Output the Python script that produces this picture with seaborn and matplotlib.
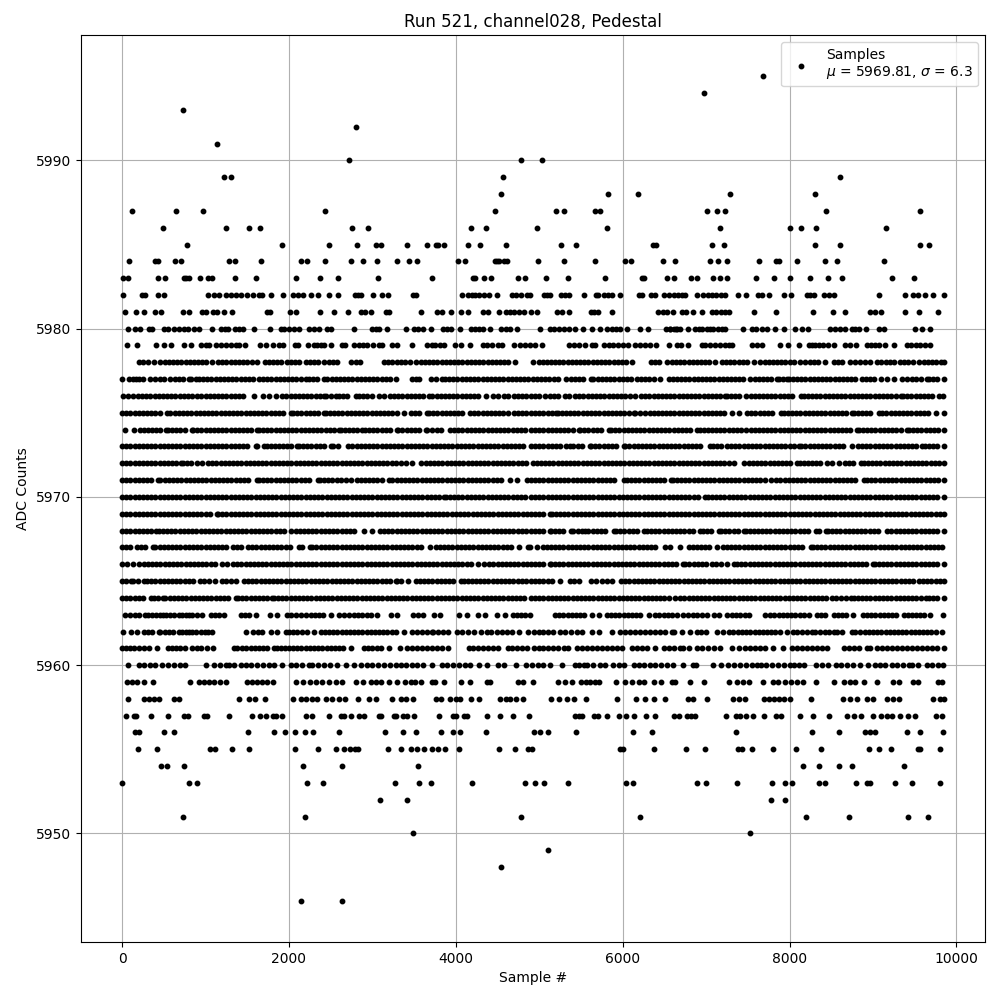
import matplotlib
matplotlib.use("Agg")
import matplotlib.pyplot as plt
import seaborn as sns
import pandas as pd

# sample numbers, one list per ADC level
adc_5995 = [7676]
adc_5994 = [6980]
adc_5993 = [728]
adc_5992 = [2804]
adc_5991 = [1136]
adc_5990 = [2720, 4776, 5028]
adc_5989 = [1220, 1304, 4560, 8600]
adc_5988 = [4536, 5820, 6180, 7292, 8300]
adc_5987 = [116, 644, 968, 2432, 4464, 5196, 5292, 5664, 5724, 7016, 7136, 7232, 8432, 9560]
adc_5986 = [488, 1244, 1520, 1652, 2756, 2948, 4176, 4360, 4968, 5808, 7172, 8000, 8132, 8312, 9152]
adc_5985 = [776, 1916, 2480, 2816, 3044, 3104, 3420, 3660, 3760, 3792, 3864, 4140, 4284, 4596, 5256, 5436, 6360, 6396,
            7076, 7216, 8300, 8600, 9560, 9668]
adc_5984 = [80, 392, 428, 632, 704, 1280, 1352, 1664, 2144, 2216, 2432, 2744, 2888, 3056, 3300, 3444, 3540, 4032, 4104,
            4464, 4490, 4512, 4572, 4608, 4980, 5292, 5664, 6024, 6096, 6480, 6632, 7048, 7148, 7256, 7628, 7840, 7868,
            8084, 8420, 8564, 9128]
adc_5983 = [8, 68, 428, 512, 740, 770, 800, 932, 1028, 1076, 1352, 1604, 2084, 2372, 2588, 3068, 3720, 4200, 4224, 4332,
            4416, 4740, 4824, 5076, 5340, 5784, 6228, 6252, 6528, 6620, 6824, 6896, 7088, 7168, 7256, 7592, 7808, 8000,
            8248, 8456, 8624, 9224, 9488]
adc_5982 = [8, 236, 276, 428, 500, 1028, 1100, 1160, 1240, 1300, 1360, 1420, 1500, 1572, 1640, 1680, 1784, 1928, 2048,
            2108, 2168, 2264, 2344, 2480, 2588, 2792, 2828, 2864, 3008, 3116, 3188, 3492, 3524, 4080, 4140, 4192, 4232,
            4272, 4332, 4392, 4488, 4668, 4716, 4776, 4852, 4884, 5052, 5092, 5132, 5256, 5304, 5352, 5532, 5676, 5700,
            5772, 5822, 5872, 5964, 6192, 6232, 6336, 6384, 6492, 6552, 6612, 6660, 6710, 6748, 6896, 6968, 7020, 7070,
            7120, 7175, 7228, 7388, 7472, 7616, 7668, 7748, 7928, 8012, 8208, 8240, 8288, 8408, 8468, 8528, 9068, 9380,
            9476, 9536, 9628, 9716, 9850]
adc_5981 = [32, 164, 260, 392, 464, 728, 800, 956, 1004, 1088, 1132, 1220, 1316, 1732, 1772, 2012, 2084, 2368, 2540, 2708,
            2864, 2912, 2984, 3164, 3200, 3588, 3780, 3840, 3948, 4068, 4140, 4320, 4380, 4512, 4596, 4650, 4700, 4752,
            4812, 4896, 4968, 5208, 5268, 5352, 5616, 5660, 5700, 5868, 6420, 6480, 6528, 6600, 6708, 6760, 6848, 6956,
            7068, 7120, 7175, 7228, 7280, 7568, 7840, 8276, 8516, 8660, 8960, 9020, 9092, 9380, 9548, 9776]
adc_5980 = [68, 152, 212, 320, 360, 500, 548, 620, 680, 740, 788, 860, 920, 1076, 1184, 1232, 1268, 1352, 1400, 1448, 1580,
            1768, 1904, 1940, 2000, 2060, 2120, 2240, 2300, 2360, 2456, 2504, 2780, 2996, 3040, 3080, 3176, 3408, 3500,
            3552, 3612, 3700, 3844, 3890, 3940, 4048, 4176, 4230, 4280, 4330, 4412, 4544, 4600, 4650, 4732, 5004, 5124,
            5180, 5240, 5300, 5352, 5424, 5520, 5628, 5724, 5812, 5870, 5920, 5972, 6052, 6204, 6300, 6516, 6570, 6636,
            6568, 6610, 6648, 6692, 6788, 6868, 6910, 6948, 7008, 7050, 7088, 7148, 7190, 7228, 7436, 7548, 7600, 7668,
            7728, 7820, 7928, 8068, 8148, 8216, 8488, 8540, 8600, 8668, 8748, 8790, 8828, 8912, 9068, 9128, 9500, 9588,
            9688]
adc_5979 = [56, 176, 404, 500, 584, 740, 824, 944, 1004, 1040, 1124, 1180, 1240, 1300, 1360, 1400, 1476, 1652, 1724, 1808,
            1880, 1932, 2072, 2108, 2228, 2300, 2340, 2380, 2420, 2500, 2632, 2668, 2780, 2840, 2888, 2940, 3008, 3080,
            3120, 3236, 3300, 3472, 3660, 3710, 3752, 3812, 3864, 3996, 4068, 4164, 4320, 4370, 4432, 4500, 4552, 4700,
            4764, 4832, 4892, 4952, 5032, 5352, 5412, 5472, 5544, 5632, 5672, 5772, 5832, 5880, 5940, 6000, 6060, 6152,
            6210, 6270, 6330, 6404, 6552, 6648, 6700, 6788, 6948, 6988, 7048, 7108, 7168, 7228, 7270, 7308, 7548, 7610,
            7668, 7888, 7976, 8108, 8228, 8270, 8308, 8348, 8400, 8460, 8528, 8668, 8728, 8792, 8928, 8980, 9030, 9068,
            9148, 9256, 9408, 9460, 9510, 9560, 9620, 9688]
adc_5978 = [200, 250, 308, 380, 460, 510, 560, 610, 660, 710, 760, 810, 860, 910, 960, 1010, 1080, 1148, 1200, 1250, 1300,
            1350, 1400, 1450, 1500, 1560, 1620, 1712, 1760, 1810, 1860, 1910, 1980, 2020, 2070, 2120, 2200, 2250, 2300,
            2350, 2420, 2480, 2530, 2572, 2740, 2800, 2852, 3140, 3190, 3240, 3300, 3340, 3392, 3452, 3524, 3580, 3632,
            3680, 3730, 3780, 3830, 3880, 3930, 3980, 4030, 4080, 4130, 4180, 4230, 4280, 4330, 4380, 4430, 4480, 4530,
            4580, 4630, 4712, 4920, 4992, 5040, 5090, 5140, 5190, 5240, 5290, 5340, 5390, 5440, 5490, 5540, 5590, 5640,
            5690, 5740, 5790, 5840, 5890, 5940, 5990, 6040, 6112, 6340, 6390, 6440, 6532, 6588, 6640, 6690, 6740, 6790,
            6840, 6890, 6940, 6990, 7040, 7108, 7188, 7240, 7290, 7340, 7390, 7440, 7488, 7568, 7648, 7700, 7750, 7800,
            7850, 7900, 7950, 8000, 8050, 8128, 8188, 8240, 8290, 8340, 8428, 8528, 8580, 8630, 8728, 8788, 8850, 8908,
            8968, 9048, 9100, 9150, 9200, 9250, 9328, 9368, 9420, 9480, 9548, 9608, 9660, 9710, 9760, 9810, 9850]
adc_5977 = [0, 80, 130, 172, 200, 250, 332, 400, 450, 500, 580, 632, 680, 730, 800, 820, 880, 920, 970, 1020, 1070, 1120,
            1170, 1220, 1268, 1320, 1370, 1420, 1470, 1520, 1570, 1640, 1692, 1740, 1788, 1840, 1890, 1940, 1990, 2040,
            2090, 2140, 2200, 2240, 2290, 2340, 2420, 2460, 2510, 2560, 2610, 2660, 2710, 2760, 2810, 2860, 2910, 2960,
            3010, 3060, 3110, 3160, 3210, 3280, 3480, 3520, 3560, 3708, 3760, 3840, 3872, 3920, 3970, 4020, 4070, 4120,
            4170, 4220, 4270, 4320, 4370, 4420, 4470, 4520, 4570, 4620, 4670, 4720, 4770, 4820, 4870, 4920, 4970, 5020,
            5070, 5120, 5172, 5230, 5320, 5380, 5430, 5480, 5530, 5620, 5650, 5700, 5750, 5800, 5850, 5900, 5950, 6000,
            6050, 6100, 6170, 6220, 6270, 6320, 6370, 6450, 6552, 6600, 6650, 6700, 6750, 6800, 6850, 6900, 6950, 7000,
            7050, 7100, 7150, 7200, 7250, 7300, 7350, 7400, 7444, 7524, 7580, 7630, 7680, 7730, 7780, 7844, 7872, 7920,
            7964, 7992, 8040, 8090, 8140, 8190, 8240, 8290, 8340, 8390, 8440, 8490, 8540, 8590, 8640, 8690, 8740, 8790,
            8872, 8912, 8960, 9010, 9100, 9164, 9252, 9350, 9412, 9472, 9520, 9570, 9652, 9672, 9720, 9770, 9850]
adc_5976 = [12, 70, 132, 188, 240, 290, 340, 390, 440, 490, 540, 590, 640, 690, 740, 790, 840, 892, 940, 1000, 1050, 1100,
            1150, 1200, 1250, 1300, 1350, 1400, 1452, 1580, 1684, 1760, 1848, 1920, 1970, 2020, 2070, 2120, 2170, 2220,
            2270, 2320, 2370, 2420, 2440, 2500, 2560, 2600, 2650, 2700, 2800, 2840, 2890, 2940, 2990, 3080, 3140, 3212,
            3260, 3310, 3360, 3410, 3460, 3510, 3560, 3610, 3680, 3720, 3770, 3820, 3870, 3920, 3970, 4020, 4070, 4120,
            4170, 4220, 4270, 4360, 4440, 4510, 4572, 4620, 4692, 4740, 4790, 4840, 4900, 4950, 5000, 5072, 5132, 5180,
            5230, 5312, 5360, 5432, 5480, 5530, 5580, 5630, 5680, 5730, 5780, 5830, 5880, 5930, 5980, 6030, 6092, 6152,
            6224, 6270, 6320, 6370, 6420, 6470, 6520, 6570, 6620, 6670, 6720, 6770, 6820, 6870, 6920, 6970, 7020, 7070,
            7120, 7170, 7232, 7252, 7300, 7350, 7400, 7472, 7532, 7580, 7630, 7680, 7730, 7780, 7830, 7880, 7930, 7980,
            8030, 8132, 8172, 8220, 8270, 8320, 8370, 8420, 8470, 8520, 8570, 8620, 8670, 8720, 8770, 8820, 8870, 8920,
            8970, 9020, 9070, 9120, 9170, 9220, 9270, 9332, 9364, 9410, 9460, 9510, 9560, 9610, 9660, 9710, 9792, 9840]
adc_5975 = [0, 50, 100, 150, 200, 250, 300, 350, 400, 450, 540, 580, 630, 680, 730, 780, 830, 880, 930, 980, 1030, 1080,
            1130, 1180, 1230, 1280, 1330, 1380, 1430, 1480, 1530, 1580, 1630, 1680, 1730, 1780, 1830, 1880, 1930, 2020,
            2052, 2100, 2150, 2200, 2250, 2300, 2350, 2420, 2440, 2490, 2540, 2590, 2640, 2690, 2740, 2790, 2840, 2890,
            2940, 2990, 3040, 3090, 3140, 3190, 3240, 3290, 3380, 3460, 3510, 3560, 3660, 3680, 3730, 3780, 3830, 3880,
            3930, 3980, 4030, 4080, 4172, 4220, 4270, 4320, 4370, 4420, 4470, 4520, 4570, 4620, 4700, 4740, 4790, 4840,
            4900, 4950, 5000, 5050, 5100, 5150, 5204, 5220, 5270, 5320, 5370, 5420, 5470, 5520, 5570, 5620, 5670, 5720,
            5770, 5820, 5870, 5920, 5970, 6020, 6070, 6132, 6152, 6210, 6272, 6324, 6370, 6420, 6470, 6520, 6570, 6620,
            6670, 6720, 6770, 6820, 6870, 6920, 6970, 7020, 7070, 7120, 7170, 7220, 7312, 7392, 7492, 7540, 7590, 7640,
            7690, 7740, 7790, 7900, 7932, 7980, 8030, 8080, 8130, 8180, 8230, 8280, 8330, 8380, 8430, 8480, 8530, 8580,
            8630, 8680, 8752, 8772, 8820, 8870, 8920, 8970, 9072, 9112, 9160, 9210, 9260, 9310, 9360, 9410, 9460, 9510,
            9560, 9610, 9660, 9752, 9850]
adc_5974 = [40, 140, 212, 260, 310, 360, 410, 460, 532, 548, 600, 650, 700, 750, 832, 848, 900, 950, 1000, 1050, 1100, 1150,
            1200, 1250, 1300, 1350, 1400, 1450, 1500, 1550, 1612, 1640, 1690, 1740, 1790, 1840, 1890, 1940, 1990, 2040,
            2090, 2140, 2190, 2240, 2290, 2340, 2390, 2440, 2490, 2540, 2600, 2620, 2670, 2720, 2770, 2820, 2880, 2908,
            2960, 3010, 3060, 3110, 3160, 3210, 3292, 3308, 3360, 3410, 3460, 3510, 3560, 3640, 3660, 3710, 3770, 3828,
            3932, 3980, 4030, 4080, 4130, 4180, 4230, 4280, 4330, 4380, 4430, 4480, 4530, 4580, 4630, 4680, 4730, 4780,
            4830, 4900, 4950, 5000, 5050, 5100, 5150, 5200, 5250, 5300, 5350, 5400, 5472, 5492, 5540, 5590, 5640, 5690,
            5740, 5832, 5860, 5910, 5960, 6010, 6060, 6110, 6160, 6210, 6260, 6310, 6360, 6410, 6460, 6510, 6560, 6610,
            6660, 6710, 6760, 6810, 6892, 6924, 6970, 7020, 7070, 7120, 7170, 7220, 7270, 7320, 7370, 7420, 7480, 7532,
            7580, 7630, 7680, 7730, 7780, 7830, 7880, 7930, 7980, 8030, 8080, 8130, 8180, 8230, 8280, 8330, 8380, 8430,
            8480, 8530, 8580, 8630, 8680, 8730, 8812, 8832, 8880, 8930, 8980, 9030, 9080, 9130, 9180, 9230, 9280, 9330,
            9404, 9432, 9480, 9530, 9580, 9630, 9680, 9730, 9780, 9850]
adc_5973 = [0, 50, 100, 150, 200, 250, 300, 350, 400, 450, 500, 550, 600, 650, 700, 750, 800, 850, 900, 950, 1000, 1050,
            1100, 1150, 1200, 1250, 1300, 1350, 1400, 1450, 1500, 1600, 1620, 1700, 1732, 1780, 1830, 1880, 1930, 1980,
            2030, 2092, 2120, 2170, 2220, 2270, 2320, 2370, 2420, 2500, 2532, 2590, 2708, 2760, 2810, 2860, 2910, 2960,
            3010, 3060, 3110, 3160, 3210, 3260, 3310, 3360, 3410, 3460, 3510, 3560, 3610, 3660, 3710, 3760, 3810, 3860,
            3910, 3960, 4010, 4060, 4110, 4160, 4210, 4260, 4310, 4360, 4410, 4460, 4510, 4560, 4610, 4660, 4710, 4760,
            4810, 4900, 4950, 5000, 5050, 5100, 5150, 5200, 5250, 5324, 5364, 5410, 5460, 5510, 5604, 5620, 5670, 5720,
            5770, 5820, 5870, 5920, 6012, 6032, 6080, 6130, 6180, 6230, 6280, 6330, 6380, 6430, 6480, 6530, 6580, 6630,
            6680, 6730, 6780, 6830, 6880, 6930, 7052, 7080, 7130, 7180, 7252, 7300, 7350, 7400, 7450, 7500, 7550, 7600,
            7650, 7700, 7750, 7800, 7850, 7900, 7950, 8000, 8050, 8112, 8140, 8190, 8240, 8290, 8340, 8390, 8440, 8490,
            8540, 8590, 8640, 8752, 8820, 8870, 8920, 8970, 9020, 9070, 9120, 9170, 9220, 9270, 9320, 9370, 9420, 9470,
            9520, 9592, 9624, 9670, 9720, 9770, 9850]
adc_5972 = [0, 50, 100, 150, 200, 250, 300, 350, 400, 450, 500, 550, 600, 650, 708, 732, 780, 830, 900, 960, 1028, 1080,
            1130, 1180, 1230, 1280, 1330, 1380, 1430, 1480, 1530, 1580, 1630, 1680, 1730, 1780, 1830, 1880, 1930, 1980,
            2030, 2080, 2130, 2180, 2230, 2280, 2330, 2380, 2430, 2480, 2530, 2580, 2630, 2680, 2730, 2780, 2830, 2880,
            2930, 2980, 3030, 3080, 3130, 3180, 3230, 3280, 3340, 3400, 3480, 3588, 3640, 3690, 3740, 3790, 3840, 3890,
            3940, 3990, 4040, 4090, 4140, 4190, 4240, 4290, 4340, 4390, 4440, 4490, 4540, 4590, 4640, 4690, 4740, 4790,
            4840, 4924, 4970, 5020, 5070, 5120, 5170, 5220, 5270, 5320, 5370, 5420, 5470, 5520, 5570, 5620, 5670, 5720,
            5770, 5820, 5870, 5920, 5970, 6020, 6070, 6120, 6170, 6220, 6270, 6320, 6370, 6420, 6470, 6520, 6570, 6620,
            6670, 6720, 6770, 6820, 6870, 6920, 6970, 7020, 7070, 7120, 7170, 7220, 7270, 7336, 7452, 7512, 7560, 7610,
            7660, 7710, 7760, 7810, 7860, 7910, 7960, 8010, 8092, 8124, 8170, 8220, 8270, 8320, 8370, 8444, 8512, 8592,
            8664, 8712, 8760, 8852, 8892, 8940, 8990, 9040, 9090, 9140, 9190, 9240, 9290, 9340, 9390, 9440, 9490, 9540,
            9590, 9640, 9690, 9740, 9790, 9850]
adc_5971 = [0, 50, 100, 150, 200, 250, 300, 350, 432, 460, 510, 560, 610, 660, 710, 760, 810, 860, 910, 960, 1010, 1060,
            1110, 1160, 1210, 1260, 1310, 1360, 1410, 1460, 1510, 1620, 1640, 1690, 1740, 1790, 1840, 1890, 1940, 1990,
            2040, 2090, 2140, 2190, 2240, 2348, 2372, 2420, 2470, 2520, 2570, 2620, 2680, 2748, 2812, 2860, 2910, 2960,
            3010, 3060, 3110, 3200, 3240, 3290, 3340, 3390, 3440, 3490, 3540, 3590, 3640, 3690, 3740, 3790, 3840, 3890,
            3940, 3990, 4040, 4090, 4140, 4190, 4240, 4290, 4340, 4390, 4440, 4490, 4540, 4652, 4732, 4852, 4900, 4950,
            5000, 5050, 5100, 5150, 5200, 5250, 5300, 5350, 5400, 5450, 5500, 5550, 5600, 5650, 5700, 5750, 5800, 5850,
            5900, 6012, 6052, 6100, 6150, 6200, 6250, 6300, 6350, 6400, 6450, 6500, 6580, 6604, 6650, 6700, 6750, 6800,
            6850, 6900, 6950, 7000, 7050, 7100, 7150, 7200, 7250, 7300, 7350, 7400, 7450, 7500, 7550, 7600, 7650, 7700,
            7780, 7840, 7890, 7940, 7990, 8040, 8090, 8140, 8190, 8240, 8290, 8340, 8390, 8440, 8490, 8540, 8590, 8640,
            8690, 8740, 8790, 8892, 8932, 8980, 9030, 9080, 9130, 9180, 9230, 9280, 9330, 9380, 9430, 9480, 9530, 9580,
            9630, 9680, 9730, 9780, 9850]
adc_5970 = [0, 50, 100, 150, 200, 250, 300, 350, 400, 450, 500, 550, 600, 650, 700, 750, 800, 850, 900, 950, 1000, 1050,
            1100, 1150, 1200, 1250, 1300, 1350, 1400, 1450, 1500, 1550, 1600, 1650, 1700, 1750, 1800, 1850, 1900, 1950,
            2000, 2050, 2100, 2150, 2200, 2250, 2300, 2350, 2400, 2450, 2500, 2550, 2600, 2650, 2700, 2750, 2800, 2850,
            2900, 2950, 3000, 3050, 3100, 3150, 3200, 3250, 3300, 3350, 3400, 3450, 3500, 3550, 3600, 3650, 3700, 3750,
            3800, 3860, 3880, 3930, 3980, 4030, 4080, 4130, 4180, 4230, 4280, 4330, 4380, 4430, 4480, 4530, 4580, 4630,
            4680, 4730, 4780, 4830, 4900, 4950, 5000, 5050, 5100, 5150, 5200, 5250, 5300, 5350, 5400, 5450, 5500, 5550,
            5600, 5650, 5700, 5750, 5800, 5850, 5900, 5950, 6000, 6050, 6100, 6150, 6200, 6250, 6300, 6350, 6400, 6450,
            6500, 6550, 6600, 6650, 6700, 6750, 6800, 6850, 6900, 6992, 7020, 7070, 7120, 7170, 7220, 7270, 7320, 7370,
            7420, 7470, 7520, 7570, 7620, 7670, 7720, 7770, 7820, 7870, 7920, 7970, 8020, 8070, 8120, 8170, 8220, 8270,
            8320, 8370, 8420, 8470, 8520, 8570, 8620, 8670, 8720, 8770, 8820, 8870, 8920, 8970, 9020, 9070, 9120, 9170,
            9220, 9270, 9320, 9370, 9420, 9470, 9520, 9570, 9620, 9670, 9720, 9770, 9850]
adc_5969 = [0, 50, 100, 150, 200, 250, 300, 350, 400, 450, 500, 550, 600, 650, 700, 750, 800, 850, 900, 950, 1000, 1050,
            1132, 1148, 1200, 1250, 1300, 1350, 1400, 1450, 1500, 1550, 1600, 1650, 1700, 1750, 1800, 1850, 1900, 1950,
            2000, 2050, 2100, 2150, 2200, 2250, 2300, 2350, 2400, 2450, 2500, 2550, 2600, 2650, 2700, 2750, 2800, 2850,
            2900, 2950, 3000, 3050, 3100, 3150, 3200, 3250, 3300, 3350, 3400, 3450, 3500, 3550, 3600, 3650, 3700, 3750,
            3800, 3850, 3900, 3950, 4000, 4050, 4100, 4150, 4200, 4250, 4300, 4350, 4400, 4450, 4500, 4550, 4600, 4650,
            4700, 4750, 4800, 4850, 4900, 4950, 5000, 5050, 5132, 5152, 5200, 5250, 5300, 5350, 5400, 5450, 5500, 5550,
            5600, 5650, 5700, 5750, 5800, 5850, 5900, 5950, 6000, 6050, 6100, 6150, 6200, 6250, 6300, 6350, 6400, 6450,
            6500, 6550, 6600, 6650, 6700, 6750, 6800, 6850, 6900, 6950, 7000, 7050, 7100, 7150, 7200, 7250, 7300, 7350,
            7400, 7450, 7500, 7550, 7600, 7650, 7700, 7750, 7800, 7850, 7900, 7950, 8000, 8050, 8100, 8150, 8200, 8250,
            8300, 8350, 8400, 8450, 8500, 8550, 8600, 8650, 8700, 8750, 8800, 8850, 8900, 8950, 9000, 9050, 9100, 9150,
            9200, 9250, 9300, 9350, 9400, 9450, 9500, 9550, 9600, 9650, 9700, 9750, 9800, 9850]
adc_5968 = [0, 50, 100, 150, 200, 250, 300, 350, 412, 440, 490, 540, 590, 640, 690, 740, 790, 840, 890, 940, 990, 1040,
            1090, 1140, 1190, 1240, 1290, 1340, 1390, 1440, 1490, 1540, 1590, 1640, 1690, 1740, 1790, 1840, 1890, 1940,
            2020, 2080, 2130, 2180, 2230, 2280, 2330, 2380, 2430, 2480, 2530, 2580, 2630, 2680, 2730, 2780, 2900, 3000,
            3092, 3140, 3190, 3240, 3290, 3340, 3390, 3440, 3490, 3540, 3590, 3640, 3690, 3740, 3790, 3840, 3890, 3940,
            3990, 4040, 4090, 4140, 4190, 4240, 4290, 4340, 4390, 4440, 4490, 4540, 4590, 4640, 4690, 4740, 4790, 4840,
            4900, 4950, 5000, 5050, 5124, 5144, 5190, 5240, 5290, 5384, 5408, 5460, 5516, 5544, 5590, 5640, 5690, 5740,
            5790, 5892, 5924, 5970, 6020, 6070, 6120, 6170, 6260, 6292, 6340, 6390, 6440, 6490, 6540, 6590, 6640, 6690,
            6740, 6790, 6840, 6932, 6964, 7010, 7060, 7152, 7180, 7230, 7280, 7330, 7380, 7452, 7472, 7520, 7570, 7620,
            7670, 7720, 7770, 7820, 7870, 7920, 7970, 8020, 8070, 8120, 8170, 8220, 8312, 8352, 8432, 8460, 8510, 8560,
            8610, 8660, 8710, 8760, 8810, 8860, 8910, 8960, 9010, 9060, 9172, 9220, 9270, 9320, 9370, 9420, 9470, 9520,
            9570, 9620, 9670, 9720, 9770, 9850]
adc_5967 = [0, 50, 100, 180, 228, 280, 372, 400, 450, 500, 550, 600, 650, 700, 750, 800, 850, 900, 950, 1000, 1050, 1100,
            1150, 1200, 1250, 1332, 1372, 1420, 1508, 1560, 1610, 1660, 1710, 1760, 1810, 1860, 1910, 1960, 2010, 2120,
            2160, 2252, 2280, 2330, 2380, 2430, 2480, 2530, 2580, 2630, 2680, 2730, 2780, 2830, 2880, 2930, 2980, 3030,
            3080, 3130, 3180, 3230, 3280, 3330, 3380, 3430, 3480, 3530, 3580, 3692, 3760, 3810, 3860, 3910, 3960, 4010,
            4060, 4110, 4160, 4210, 4260, 4310, 4360, 4410, 4460, 4510, 4560, 4610, 4660, 4760, 4860, 4892, 4972, 5044,
            5090, 5140, 5190, 5240, 5290, 5340, 5390, 5440, 5490, 5540, 5590, 5640, 5690, 5740, 5790, 5840, 5890, 5940,
            5990, 6040, 6090, 6140, 6190, 6240, 6290, 6340, 6390, 6512, 6564, 6692, 6792, 6840, 6890, 6940, 6990, 7040,
            7132, 7204, 7250, 7300, 7350, 7400, 7450, 7500, 7550, 7600, 7650, 7700, 7750, 7800, 7850, 7900, 7950, 8000,
            8050, 8100, 8150, 8252, 8284, 8330, 8380, 8430, 8480, 8530, 8580, 8630, 8680, 8730, 8780, 8830, 8880, 8930,
            8980, 9030, 9080, 9130, 9180, 9230, 9280, 9330, 9380, 9430, 9480, 9530, 9580, 9630, 9680, 9730, 9780, 9830]
adc_5966 = [0, 60, 132, 208, 260, 310, 360, 410, 460, 510, 560, 610, 660, 710, 760, 810, 860, 910, 960, 1010, 1060, 1110,
            1192, 1252, 1332, 1380, 1430, 1480, 1530, 1580, 1630, 1680, 1730, 1780, 1830, 1880, 1930, 1980, 2030, 2080,
            2130, 2180, 2230, 2280, 2330, 2380, 2430, 2480, 2530, 2580, 2630, 2680, 2730, 2780, 2830, 2880, 2930, 2980,
            3030, 3080, 3130, 3180, 3230, 3280, 3330, 3380, 3430, 3480, 3530, 3580, 3630, 3680, 3730, 3780, 3830, 3880,
            3930, 3980, 4030, 4080, 4130, 4180, 4260, 4340, 4400, 4450, 4500, 4550, 4600, 4650, 4700, 4750, 4800, 4850,
            4900, 4950, 5000, 5050, 5124, 5140, 5190, 5240, 5290, 5340, 5390, 5440, 5490, 5540, 5590, 5640, 5690, 5740,
            5790, 5840, 5890, 5940, 5990, 6040, 6090, 6140, 6190, 6240, 6290, 6340, 6390, 6440, 6490, 6540, 6590, 6640,
            6724, 6752, 6800, 6850, 6900, 6950, 7000, 7072, 7124, 7180, 7250, 7332, 7372, 7420, 7470, 7520, 7570, 7620,
            7670, 7720, 7770, 7820, 7870, 7920, 7970, 8020, 8070, 8120, 8170, 8220, 8270, 8320, 8370, 8420, 8470, 8520,
            8570, 8620, 8670, 8720, 8770, 8820, 8870, 8920, 8996, 9024, 9070, 9120, 9170, 9220, 9270, 9320, 9370, 9420,
            9470, 9520, 9570, 9620, 9670, 9720, 9770, 9850]
adc_5965 = [0, 50, 108, 132, 190, 260, 300, 350, 400, 450, 500, 550, 600, 650, 700, 750, 800, 850, 932, 980, 1040, 1110,
            1200, 1248, 1300, 1370, 1460, 1508, 1560, 1610, 1660, 1710, 1760, 1810, 1860, 1910, 1960, 2010, 2060, 2110,
            2160, 2210, 2260, 2310, 2360, 2410, 2460, 2510, 2560, 2610, 2660, 2710, 2760, 2810, 2860, 2910, 2960, 3010,
            3060, 3110, 3160, 3210, 3280, 3300, 3340, 3430, 3520, 3572, 3620, 3670, 3720, 3770, 3820, 3870, 3920, 3970,
            4060, 4092, 4140, 4190, 4240, 4290, 4340, 4390, 4440, 4490, 4540, 4590, 4640, 4690, 4740, 4790, 4840, 4900,
            4950, 5000, 5050, 5100, 5150, 5244, 5364, 5420, 5480, 5620, 5684, 5752, 5810, 5872, 5980, 6030, 6080, 6130,
            6180, 6230, 6280, 6330, 6380, 6430, 6480, 6530, 6580, 6630, 6680, 6730, 6780, 6830, 6880, 6930, 6980, 7030,
            7080, 7130, 7180, 7230, 7280, 7330, 7380, 7430, 7480, 7530, 7580, 7630, 7680, 7730, 7780, 7830, 7880, 7930,
            7980, 8030, 8080, 8130, 8180, 8230, 8280, 8330, 8380, 8430, 8480, 8530, 8580, 8630, 8680, 8730, 8780, 8830,
            8880, 8930, 8980, 9030, 9080, 9130, 9180, 9230, 9280, 9330, 9380, 9430, 9480, 9552, 9600, 9650, 9700, 9750,
            9800, 9850]
adc_5964 = [0, 50, 100, 150, 200, 250, 348, 380, 430, 492, 520, 570, 620, 670, 720, 770, 820, 870, 920, 970, 1020, 1070,
            1120, 1170, 1220, 1270, 1360, 1388, 1440, 1490, 1540, 1590, 1640, 1690, 1740, 1800, 1820, 1870, 1920, 1970,
            2020, 2070, 2120, 2170, 2220, 2270, 2320, 2370, 2420, 2470, 2520, 2570, 2620, 2670, 2720, 2770, 2820, 2870,
            2920, 2970, 3020, 3070, 3120, 3170, 3220, 3270, 3320, 3370, 3420, 3470, 3520, 3570, 3620, 3670, 3720, 3770,
            3820, 3870, 3920, 3970, 4020, 4070, 4120, 4170, 4220, 4270, 4320, 4370, 4420, 4470, 4520, 4570, 4620, 4670,
            4720, 4770, 4820, 4900, 4950, 5000, 5050, 5100, 5150, 5200, 5250, 5300, 5350, 5400, 5450, 5500, 5550, 5600,
            5650, 5700, 5750, 5800, 5850, 5900, 5950, 6000, 6050, 6100, 6150, 6200, 6250, 6300, 6350, 6400, 6450, 6500,
            6550, 6632, 6692, 6740, 6790, 6840, 6890, 6940, 6990, 7040, 7090, 7140, 7190, 7240, 7290, 7340, 7390, 7440,
            7490, 7540, 7590, 7640, 7690, 7740, 7790, 7840, 7890, 7940, 7990, 8040, 8090, 8140, 8190, 8240, 8290, 8340,
            8390, 8440, 8512, 8560, 8620, 8680, 8740, 8772, 8820, 8870, 8920, 8970, 9020, 9070, 9120, 9170, 9220, 9270,
            9320, 9370, 9420, 9470, 9520, 9570, 9632, 9672, 9720, 9770, 9850]
adc_5963 = [40, 100, 150, 200, 280, 308, 360, 410, 460, 488, 530, 580, 620, 680, 720, 760, 800, 840, 900, 960, 1060, 1110,
            1160, 1220, 1420, 1470, 1520, 1600, 1772, 1852, 1980, 2030, 2080, 2140, 2208, 2260, 2310, 2360, 2410, 2500,
            2600, 2660, 2720, 2780, 2830, 2880, 2930, 2980, 3060, 3228, 3300, 3484, 3552, 3612, 3740, 3812, 4044, 4128,
            4260, 4344, 4488, 4584, 4680, 4730, 4780, 4830, 4892, 5192, 5240, 5290, 5340, 5390, 5440, 5490, 5540, 5632,
            5712, 5812, 5860, 5910, 5960, 6010, 6060, 6110, 6160, 6210, 6312, 6392, 6440, 6490, 6540, 6590, 6656, 6720,
            6788, 6840, 6890, 6948, 7008, 7096, 7150, 7248, 7308, 7360, 7410, 7460, 7508, 7708, 7760, 7808, 7868, 7920,
            7970, 8020, 8070, 8120, 8170, 8228, 8328, 8380, 8428, 8528, 8580, 8630, 8680, 8760, 8880, 8930, 8980, 9030,
            9080, 9130, 9180, 9230, 9280, 9368, 9420, 9470, 9510, 9560, 9610, 9688, 9840]
adc_5962 = [8, 108, 180, 260, 310, 360, 440, 460, 510, 560, 610, 680, 720, 760, 800, 840, 890, 940, 990, 1030, 1080, 1480,
            1568, 1632, 1680, 1780, 1860, 1960, 2000, 2050, 2100, 2160, 2220, 2300, 2380, 2430, 2480, 2530, 2580, 2630,
            2680, 2730, 2780, 2830, 2880, 2930, 2980, 3030, 3080, 3130, 3180, 3230, 3280, 3380, 3472, 3532, 3590, 3650,
            3712, 3732, 3790, 3850, 3910, 4012, 4072, 4140, 4220, 4300, 4372, 4420, 4492, 4550, 4610, 4670, 4752, 4860,
            4932, 4992, 5044, 5100, 5160, 5252, 5312, 5380, 5452, 5512, 5632, 5712, 5872, 5972, 6032, 6090, 6150, 6210,
            6270, 6330, 6390, 6450, 6510, 6612, 6708, 6588, 6808, 6888, 6936, 7000, 7136, 7208, 7280, 7328, 7380, 7430,
            7480, 7530, 7580, 7630, 7680, 7730, 7780, 7830, 7880, 7968, 8036, 8088, 8150, 8210, 8268, 8308, 8360, 8420,
            8470, 8528, 8568, 8628, 8748, 8788, 8840, 8900, 8950, 9000, 9050, 9100, 9150, 9200, 9250, 9300, 9350, 9400,
            9450, 9500, 9550, 9600, 9650, 9700, 9750, 9828]
adc_5961 = [0, 50, 100, 148, 200, 260, 320, 420, 548, 600, 650, 700, 750, 840, 892, 950, 1020, 1092, 1340, 1380, 1440, 1490,
            1540, 1590, 1640, 1690, 1740, 1820, 1852, 1900, 1950, 2000, 2050, 2100, 2150, 2200, 2250, 2300, 2350, 2400,
            2450, 2500, 2550, 2600, 2650, 2740, 2900, 2950, 3000, 3050, 3100, 3200, 3328, 3420, 3480, 3540, 3592, 3650,
            3710, 3770, 3830, 3912, 4152, 4210, 4270, 4330, 4390, 4450, 4510, 4620, 4672, 4730, 4790, 4850, 4932, 4992,
            5050, 5110, 5170, 5230, 5292, 5344, 5452, 5510, 5570, 5630, 5690, 5750, 5810, 5870, 5930, 5992, 6112, 6170,
            6230, 6290, 6392, 6492, 6560, 6620, 6692, 6720, 6800, 6888, 6948, 7028, 7100, 7168, 7308, 7400, 7468, 7530,
            7590, 7650, 7710, 7796, 7916, 8028, 8090, 8150, 8210, 8270, 8330, 8390, 8448, 8648, 8710, 8770, 8830, 8928,
            8960, 9048, 9108, 9170, 9230, 9290, 9350, 9410, 9470, 9530, 9590, 9650, 9710, 9770, 9848]
adc_5960 = [68, 200, 260, 330, 400, 480, 550, 620, 700, 752, 1004, 1100, 1170, 1240, 1280, 1340, 1420, 1480, 1550, 1620, 1690,
            1760, 1820, 1920, 2020, 2090, 2160, 2240, 2280, 2350, 2420, 2490, 2580, 2680, 2780, 2860, 2930, 3000, 3070,
            3140, 3210, 3280, 3340, 3400, 3470, 3540, 3610, 3712, 3840, 3900, 3972, 4040, 4110, 4172, 4280, 4372, 4500,
            4572, 4716, 4844, 4910, 4980, 5050, 5124, 5268, 5424, 5480, 5532, 5572, 5640, 5724, 5784, 5884, 5950, 6020,
            6132, 6192, 6252, 6324, 6390, 6460, 6530, 6604, 6728, 6848, 6880, 7088, 7184, 7268, 7340, 7410, 7480, 7550,
            7608, 7656, 7720, 7790, 7860, 7930, 8008, 8048, 8108, 8168, 8312, 8384, 8456, 8556, 8620, 8690, 8760, 8848,
            8940, 9028, 9088, 9140, 9228, 9288, 9360, 9428, 9468, 9540, 9648, 9708, 9780, 9840]
adc_5959 = [60, 120, 180, 260, 368, 812, 920, 980, 1040, 1100, 1170, 1240, 1500, 1560, 1620, 1680, 1740, 1812, 2080, 2168,
            2252, 2320, 2392, 2480, 2560, 2640, 2808, 2888, 2980, 3040, 3100, 3200, 3300, 3392, 3460, 3512, 3580, 3712,
            3752, 3864, 4064, 4164, 4372, 4412, 4740, 4800, 4920, 5220, 5312, 5392, 5500, 5560, 5612, 5672, 5712, 5916,
            6032, 6110, 6192, 6252, 6372, 6456, 6592, 6632, 6808, 6980, 7276, 7368, 7440, 7508, 7676, 7796, 7856, 7948,
            8020, 8088, 8156, 8312, 8528, 8648, 8728, 8788, 8888, 9044, 9240, 9308, 9480, 9536, 9780, 9828]
adc_5958 = [68, 260, 320, 380, 440, 620, 680, 1400, 1520, 1592, 1708, 2048, 2140, 2210, 2280, 2336, 2440, 2520, 2600, 2672,
            2828, 2960, 3040, 3240, 3340, 3400, 3484, 3764, 3820, 3936, 4000, 4052, 4184, 4272, 4532, 4600, 4652, 4716,
            4800, 5136, 5232, 5328, 5412, 5556, 5936, 6156, 6272, 6372, 6504, 6788, 6848, 7016, 7328, 7400, 7468, 7688,
            7750, 7810, 7870, 7928, 8000, 8252, 8636, 8720, 8808, 8924, 8996, 9168, 9240, 9308, 9716, 9808, 9850]
adc_5957 = [44, 140, 172, 344, 548, 740, 788, 980, 1012, 1280, 1556, 1652, 1720, 1812, 1848, 1920, 2204, 2272, 2484, 2620,
            2660, 2748, 2840, 2900, 3080, 3108, 3260, 3280, 3364, 3420, 3504, 3800, 3972, 4000, 4092, 4132, 4372, 4532,
            4680, 4880, 5432, 5480, 5512, 5652, 5700, 5812, 5952, 6044, 6132, 6280, 6392, 6612, 6680, 6768, 6820, 6868,
            7244, 7356, 7408, 7472, 7556, 7696, 7832, 7900, 8120, 8276, 8476, 8688, 8768, 8852, 8996, 9096, 9168, 9228,
            9320, 9416, 9508, 9752, 9824]
adc_5956 = [152, 208, 500, 620, 1508, 1820, 1952, 2068, 2188, 2288, 2600, 3152, 3364, 3528, 3828, 3972, 4056, 4356, 4932,
            5004, 5100, 5436, 6120, 6348, 7356, 8264, 8588, 8900, 8968, 9024, 9404, 9560, 9836]
adc_5955 = [188, 416, 1052, 1112, 1316, 1516, 2072, 2348, 2564, 2660, 2732, 2788, 2832, 3188, 3340, 3468, 3540, 3624, 3712,
            3792, 3876, 4044, 4512, 4704, 4860, 4908, 5964, 6000, 6372, 6764, 6992, 7388, 7428, 7544, 7796, 8072, 8372,
            8948, 9068, 9212, 9536, 9568, 9800]
adc_5954 = [464, 536, 740, 2168, 2636, 3548, 8156, 8348, 8588, 8744, 9368]
adc_5953 = [0, 796, 896, 2216, 2408, 3276, 3564, 3700, 4188, 4824, 4944, 5052, 5340, 6036, 6120, 6896, 7004, 7376, 7784,
            7940, 8024, 8348, 8420, 8792, 8928, 8968, 9260, 9464, 9800]
adc_5952 = [3092, 3420, 7772, 7940]
adc_5951 = [728, 2192, 4776, 6204, 8192, 8708, 9416, 9656]
adc_5950 = [3492, 7520]
adc_5949 = [5100]
adc_5948 = [4536]
adc_5946 = [2144, 2636]

levels = {5995: adc_5995, 5994: adc_5994, 5993: adc_5993, 5992: adc_5992, 5991: adc_5991, 5990: adc_5990,
          5989: adc_5989, 5988: adc_5988, 5987: adc_5987, 5986: adc_5986, 5985: adc_5985, 5984: adc_5984,
          5983: adc_5983, 5982: adc_5982, 5981: adc_5981, 5980: adc_5980, 5979: adc_5979, 5978: adc_5978,
          5977: adc_5977, 5976: adc_5976, 5975: adc_5975, 5974: adc_5974, 5973: adc_5973, 5972: adc_5972,
          5971: adc_5971, 5970: adc_5970, 5969: adc_5969, 5968: adc_5968, 5967: adc_5967, 5966: adc_5966,
          5965: adc_5965, 5964: adc_5964, 5963: adc_5963, 5962: adc_5962, 5961: adc_5961, 5960: adc_5960,
          5959: adc_5959, 5958: adc_5958, 5957: adc_5957, 5956: adc_5956, 5955: adc_5955, 5954: adc_5954,
          5953: adc_5953, 5952: adc_5952, 5951: adc_5951, 5950: adc_5950, 5949: adc_5949, 5948: adc_5948,
          5946: adc_5946}

rows = [(s, adc) for adc, samples in levels.items() for s in samples]
data = pd.DataFrame(rows, columns=["sample", "adc"])

fig, ax = plt.subplots(figsize=(10, 10))
sns.scatterplot(data=data, x="sample", y="adc", marker=".", s=36, color="black",
                edgecolor="black", linewidth=1.2,
                label="Samples\n$\\mu$ = 5969.81, $\\sigma$ = 6.3", ax=ax)
ax.grid(True)
ax.set_axisbelow(True)
ax.set_title("Run 521, channel028, Pedestal")
ax.set_xlabel("Sample #")
ax.set_ylabel("ADC Counts")
ax.legend(loc="upper right")
fig.subplots_adjust(left=0.081, right=0.985, top=0.965, bottom=0.058)
plt.savefig("out.png", dpi=100)
